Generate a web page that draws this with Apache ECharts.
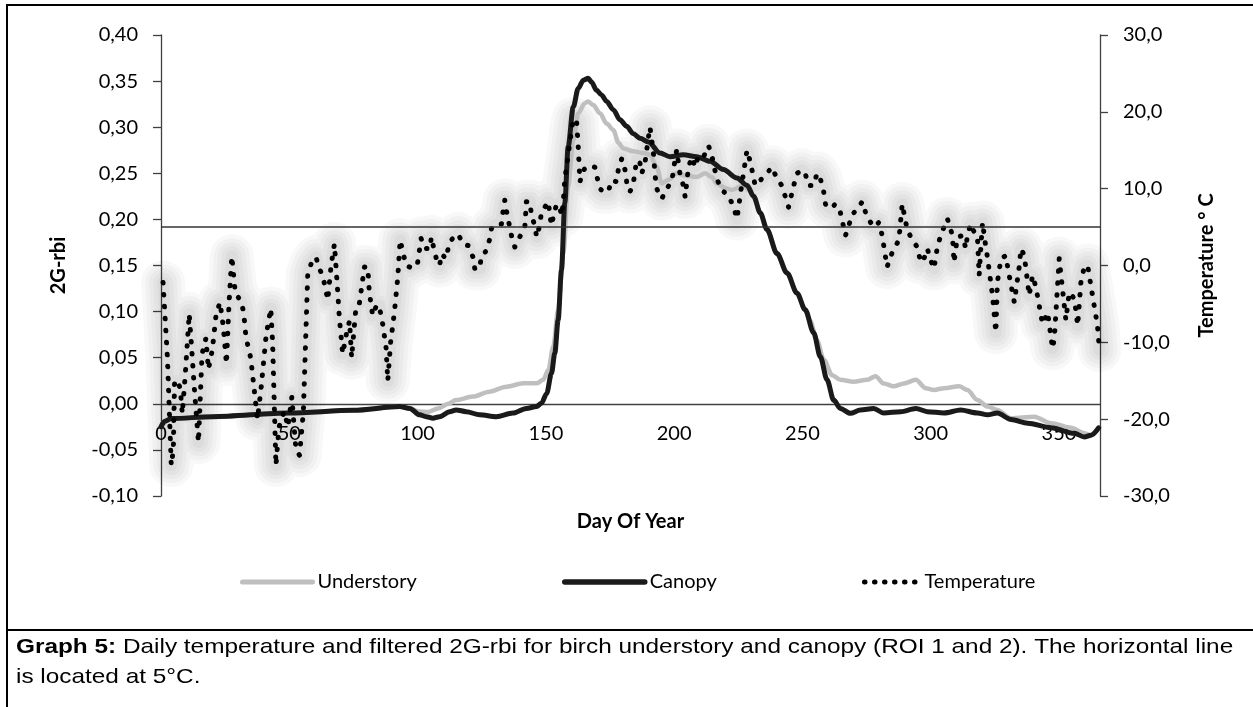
<!DOCTYPE html>
<html><head><meta charset="utf-8">
<script src="https://cdn.jsdelivr.net/npm/echarts@6/dist/echarts.min.js"></script>
<style>html,body{margin:0;padding:0;background:#fff}#c{width:1253px;height:707px}</style>
</head><body><div id="c"></div>
<script>
// ---- data (day of year, value) ----
const understory = [[0,-0.025],[1.5,-0.019],[4,-0.016],[20,-0.014],[50,-0.010],[75,-0.007],[93,-0.003],[97,-0.005],[100,-0.008],[104,-0.009],[108,-0.005],[112,0.000],[115,0.004],[121.6,0.0078],[128,0.0132],[134.6,0.0186],[141.2,0.0222],[146.4,0.0222],[149,0.026],[151,0.037],[152.9,0.062],[154.8,0.102],[156.8,0.163],[158.7,0.236],[160.7,0.286],[162.6,0.315],[165.2,0.326],[166.5,0.328],[168.5,0.324],[171.1,0.315],[173.7,0.304],[176.3,0.297],[178.3,0.283],[180.2,0.277],[184.1,0.274],[188,0.272],[190.6,0.270],[193.2,0.257],[195.2,0.239],[197.8,0.243],[201,0.250],[203.6,0.248],[208.8,0.246],[212.1,0.250],[214.7,0.246],[216.6,0.239],[219.9,0.234],[222.5,0.232],[227.1,0.237],[229,0.232],[231,0.224],[233.6,0.207],[236.2,0.189],[240.1,0.163],[244,0.142],[247.9,0.120],[251.1,0.102],[253,0.090],[255.7,0.069],[258.3,0.048],[261.6,0.031],[264.8,0.026],[270,0.024],[275.2,0.026],[278.5,0.030],[281.7,0.022],[285.6,0.019],[289.6,0.022],[294.2,0.026],[298.1,0.017],[301.3,0.015],[305.2,0.017],[311.1,0.019],[314.3,0.015],[318.2,0.0042],[322.2,-0.003],[326,-0.0067],[331.3,-0.0157],[340.4,-0.014],[346.9,-0.021],[354.7,-0.026],[359.9,-0.032],[362.5,-0.034],[365.5,-0.026]];
const canopy = [[0,-0.025],[1.5,-0.019],[4,-0.016],[20,-0.014],[50,-0.010],[75,-0.007],[93,-0.003],[97,-0.005],[100.8,-0.012],[103.4,-0.014],[106,-0.0157],[108.6,-0.014],[112.5,-0.0085],[115,-0.0067],[119,-0.0085],[124.2,-0.012],[130.7,-0.014],[137.2,-0.010],[142.4,-0.005],[146.4,-0.003],[148.3,0.0006],[150.3,0.011],[152.2,0.033],[153.5,0.055],[154.8,0.091],[156.1,0.145],[157.4,0.218],[158.7,0.279],[160.7,0.322],[162.6,0.342],[164.6,0.351],[166.5,0.353],[167.8,0.349],[169.8,0.340],[171.7,0.335],[173.7,0.328],[176.3,0.319],[178.9,0.308],[181.5,0.301],[184.1,0.293],[186.7,0.288],[190,0.284],[194.5,0.272],[198.4,0.268],[203.6,0.270],[208.8,0.268],[214,0.263],[219.2,0.254],[224.5,0.245],[228.4,0.237],[231,0.225],[233.6,0.207],[236.2,0.189],[240.1,0.163],[244,0.142],[247.9,0.120],[251.1,0.102],[254.4,0.077],[257,0.051],[259.6,0.026],[262.2,0.004],[264.8,-0.005],[268.7,-0.0103],[272.6,-0.0067],[277.8,-0.005],[281.7,-0.010],[288.3,-0.0085],[294.2,-0.005],[298.7,-0.0085],[305.2,-0.010],[311.7,-0.0067],[318.2,-0.010],[322.2,-0.012],[326,-0.010],[331.3,-0.017],[337.8,-0.021],[346.9,-0.026],[356,-0.032],[359.9,-0.036],[362.5,-0.034],[365.5,-0.026]];
const temperature = [[0.8,-2.2],[2.5,-12],[4,-26],[4.8,-24],[5.3,-15],[6.4,-15],[7.5,-16],[8.3,-19.3],[9.5,-14],[11,-6.3],[12,-11],[13,-16],[14.6,-23],[16,-11.5],[17.5,-9.5],[18.5,-13.5],[20,-11],[21.5,-6.3],[23,-4.8],[24.3,-8],[25.5,-12.8],[26.5,-5],[27.6,1.2],[29,-3.7],[31,-4.5],[32.2,-6],[33.1,-9.3],[35,-12.1],[37.6,-20],[39,-16],[41,-9],[42.8,-5.6],[43.5,-10],[44.8,-26],[46,-21],[48,-19],[49.5,-21],[51,-17.1],[52.6,-24],[54,-24.7],[55.5,-19],[57.2,-1.1],[58.5,0.2],[60.4,1.1],[61.7,-0.4],[63,-1.3],[64,-2.8],[65,-4.5],[66.3,0],[67,1.5],[67.6,2.8],[68.9,-3.5],[69.5,-6.7],[70.8,-11.5],[72.5,-8.5],[73.5,-7.2],[74.3,-12],[76,-5.4],[77.3,-5],[79.3,-0.2],[80.6,-0.2],[81.2,-3.5],[82.5,-6.5],[84,-5.2],[85,-5.2],[86.4,-7.6],[87.7,-10.6],[88.4,-15],[89.5,-10],[91,-6],[92.3,-1.5],[93.2,3.3],[94.3,1.75],[95.5,0],[96.9,-0.2],[99,0.5],[100,0.3],[101.4,3.5],[103,2.2],[105,2.2],[105.3,3.7],[107.3,0.9],[108.6,0],[109.3,1.5],[111.2,0.9],[112,2.4],[113,3.3],[115.8,4.1],[117.7,2.8],[119.7,2.6],[121.6,1.1],[122.3,-0.4],[124.2,-0.4],[124.9,1.3],[126.8,1.9],[128,3.3],[128.8,4.8],[130.7,5.4],[132.7,5.4],[133.3,7],[134,8.5],[134.6,7.2],[136.6,3.9],[137.9,2.4],[139.8,3.7],[141.8,5],[142.1,6.5],[142.4,8.3],[143.8,8.3],[144.4,6.5],[145.7,5.2],[146.4,3.7],[147.6,5.2],[148.3,7],[149.6,7.6],[151,8.3],[151.6,6.5],[152.2,5.2],[153,6.5],[154.2,8],[155.5,7.4],[156.2,6.5],[156.8,8.3],[157.4,11.3],[158.7,14.3],[160,17.6],[160.7,19.1],[162,18.7],[162.6,15.6],[163.3,10.9],[164.6,12.4],[166.5,13],[169.1,12.8],[171,10],[172.4,9.6],[174.3,9.6],[175.7,11.1],[177.6,10.9],[178.3,12.6],[179.6,13.9],[180.9,12.4],[181.5,10.9],[182.8,9.6],[184.1,10.7],[185.4,13.7],[186.7,13.3],[187.4,12],[188.7,13.5],[190,16.7],[190.6,18],[191.9,14.8],[192.6,11.7],[193.2,10],[195.2,8.7],[197.1,10],[199.1,10.9],[200.4,13.9],[201,15],[202.3,11.9],[203.6,10.4],[204.3,8.9],[205.6,12.8],[206.9,14.1],[208.2,12.8],[209.5,14.3],[211.4,14.1],[213.4,15.6],[214.7,14.3],[216.6,11.3],[218.6,9.8],[221.2,9.1],[223.2,7.6],[224.5,6.1],[226.4,10.6],[228.4,15],[229.7,13.5],[231.6,10.4],[233.6,11.1],[235.5,11.7],[238.1,12.8],[240.1,11.3],[242,10.4],[244.6,7.6],[246.6,10.4],[247.9,12],[249.8,12.4],[251.1,12],[252.4,10.4],[254.4,10.4],[255.7,12],[257,11.3],[258.3,9.6],[259,8],[260.9,7.4],[262.9,8],[264.8,6.9],[266.8,3.9],[268.1,5.2],[269.4,6.7],[271.3,7.2],[273.3,8.3],[275.2,6.3],[277.8,5],[279.8,5.6],[281.1,3.9],[283,-0.2],[285,1.7],[287.6,3.3],[288.9,8],[290.9,4.6],[292.9,3.3],[294.8,2.4],[296.1,0.4],[297.4,0.9],[298.7,2.2],[300,0.7],[301.3,-0.4],[302.6,2.4],[303.9,3.9],[306.5,6.1],[308.5,3.9],[309.1,0.4],[310.4,3.7],[312.4,3.9],[313.7,2.2],[314.3,3.9],[315.6,5.4],[317,4.3],[318.2,3.9],[318.9,-1.3],[319.6,2.6],[320.2,5.6],[321.5,2.4],[322.2,0.9],[324.1,-3.9],[325.4,-8.7],[326,-2.2],[327.4,0.9],[329.3,1.3],[330,-0.2],[332.6,-4.8],[334.5,-0.2],[335.2,2.2],[336.5,1.3],[338.4,-3.9],[339.7,-1.3],[341,-2.8],[343.6,-7.6],[345.6,-6.1],[346.2,-7.6],[347.5,-10.8],[348.2,-9.5],[350.1,0.9],[352.7,-7.1],[354,-3.5],[356,-4.3],[357.3,-7.8],[358.6,-2],[359.9,-0.2],[361.2,0],[361.9,-1.5],[365,-7.8],[365.8,-11]];
const thresholdTemp = [5];
const xRange = [0, 366, 50];
const rbiRange = [-0.10, 0.40, 0.05];
const tempRange = [-30, 30, 10];
const seriesNames = ['Understory', 'Canopy', 'Temperature'];
const captionBold = 'Graph 5:';
const captionLine1 = ' Daily temperature and filtered 2G-rbi for birch understory and canopy (ROI 1 and 2). The horizontal line';
const captionLine2 = 'is located at 5°C.';

const FONT = 'Lato';
const FS = 20;
const chart = echarts.init(document.getElementById('c'), null, {renderer: 'canvas'});
const fmt = (d) => (v) => (Math.abs(v) < 1e-9 ? 0 : v).toFixed(d).replace('.', ',');
const axisLineStyle = {color: '#404040', width: 1.3};
const gridTop = 35, gridBottom = 211, gridH = 707 - gridTop - gridBottom;
// x axis sits on the 2G-rbi zero value
const zeroOffset = -gridH * (0 - rbiRange[0]) / (rbiRange[1] - rbiRange[0]);
const legendText = {fontFamily: FONT, fontSize: FS, color: '#000'};
const noSymbol = {opacity: 0};

// layered soft glow beneath the temperature dots (stroke widths only)
const glowWidths = [44, 36, 28, 20, 12];
const glowSeries = glowWidths.map((w, i) => ({
  name: 'glow' + i, type: 'line', yAxisIndex: 1, data: temperature,
  symbol: 'none', silent: true,
  lineStyle: {color: 'rgba(0,0,0,0.026)', width: w, cap: 'round', join: 'round'},
  emphasis: {disabled: true}, z: 1
}));

chart.setOption({
  animation: false,
  backgroundColor: '#fff',
  grid: {left: 161, right: 153, top: gridTop, bottom: gridBottom, containLabel: false},
  legend: [
    {data: [seriesNames[0]], left: 235, top: 567, itemWidth: 70, itemHeight: 14, itemStyle: noSymbol, textStyle: legendText,
      lineStyle: {width: 5, color: '#bfbfbf', cap: 'round'}},
    {data: [seriesNames[1]], left: 557, top: 567, itemWidth: 80, itemHeight: 14, itemStyle: noSymbol, textStyle: legendText,
      lineStyle: {width: 5.5, color: '#1a1a1a', cap: 'round'}},
    {data: [seriesNames[2]], left: 857, top: 567, itemWidth: 55, itemHeight: 14, itemStyle: noSymbol, textStyle: legendText,
      lineStyle: {type: [0.5, 9.5], width: 5, cap: 'round', color: '#000'}}
  ],
  xAxis: {
    type: 'value', min: xRange[0], max: xRange[1], interval: xRange[2],
    offset: zeroOffset,
    name: 'Day Of Year', nameLocation: 'middle', nameGap: 108,
    nameTextStyle: {fontFamily: FONT, fontSize: FS, fontWeight: 'bold', color: '#000'},
    axisLine: {show: true, onZero: false, lineStyle: axisLineStyle},
    axisTick: {show: false},
    axisLabel: {fontFamily: FONT, fontSize: FS, color: '#000', margin: 20, showMaxLabel: false},
    splitLine: {show: false}
  },
  yAxis: [
    {
      type: 'value', min: rbiRange[0], max: rbiRange[1], interval: rbiRange[2], position: 'left',
      name: '2G-rbi', nameLocation: 'middle', nameGap: 92, nameRotate: 90,
      nameTextStyle: {fontFamily: FONT, fontSize: FS, fontWeight: 'bold', color: '#000'},
      axisLine: {show: true, onZero: false, lineStyle: axisLineStyle},
      axisTick: {show: true, length: 8, lineStyle: axisLineStyle},
      axisLabel: {fontFamily: FONT, fontSize: FS, color: '#000', margin: 23, formatter: fmt(2)},
      splitLine: {show: false}
    },
    {
      type: 'value', min: tempRange[0], max: tempRange[1], interval: tempRange[2], position: 'right',
      name: 'Temperature ° C', nameLocation: 'middle', nameGap: 97, nameRotate: 90,
      nameTextStyle: {fontFamily: FONT, fontSize: FS, fontWeight: 'bold', color: '#000'},
      axisLine: {show: true, onZero: false, lineStyle: axisLineStyle},
      axisTick: {show: true, length: 8, lineStyle: axisLineStyle},
      axisLabel: {fontFamily: FONT, fontSize: FS, color: '#000', margin: 23, formatter: fmt(1)},
      splitLine: {show: false}
    }
  ],
  series: glowSeries.concat([
    {
      name: seriesNames[0], type: 'line', yAxisIndex: 0, data: understory,
      symbol: 'none', smooth: 0.3, smoothMonotone: 'x', color: '#bfbfbf',
      lineStyle: {color: '#bfbfbf', width: 4.5, cap: 'round', join: 'round'},
      emphasis: {disabled: true}, z: 2
    },
    {
      name: seriesNames[1], type: 'line', yAxisIndex: 0, data: canopy,
      symbol: 'none', smooth: 0.3, smoothMonotone: 'x', color: '#1a1a1a',
      lineStyle: {color: '#1a1a1a', width: 5, cap: 'round', join: 'round'},
      emphasis: {disabled: true}, z: 3
    },
    {
      name: seriesNames[2], type: 'line', yAxisIndex: 1, data: temperature,
      symbol: 'none', color: '#000',
      lineStyle: {color: '#000', width: 5, type: [0.5, 11.5], cap: 'round', join: 'round'},
      emphasis: {disabled: true}, z: 4,
      markLine: {
        silent: true, symbol: 'none', label: {show: false},
        lineStyle: {color: '#333', width: 1.5, type: 'solid'},
        data: thresholdTemp.map(v => ({yAxis: v}))
      }
    }
  ]),
  graphic: [
    {type: 'line', shape: {x1: 6, y1: 5, x2: 1253, y2: 5}, style: {stroke: '#000', lineWidth: 2}},
    {type: 'line', shape: {x1: 7, y1: 4, x2: 7, y2: 707}, style: {stroke: '#000', lineWidth: 2}},
    {type: 'line', shape: {x1: 6, y1: 630, x2: 1253, y2: 630}, style: {stroke: '#000', lineWidth: 2}},
    {type: 'text', x: 16, y: 637, scaleX: 1.16, style: {text: '{b|' + captionBold + '}' + captionLine1,
      font: '21px "Liberation Sans", Arial', fill: '#000',
      rich: {b: {fontWeight: 'bold', fontSize: 21, fontFamily: '"Liberation Sans", Arial'}}}},
    {type: 'text', x: 16, y: 667, scaleX: 1.16, style: {text: captionLine2, font: '21px "Liberation Sans", Arial', fill: '#000'}}
  ]
});
</script></body></html>
